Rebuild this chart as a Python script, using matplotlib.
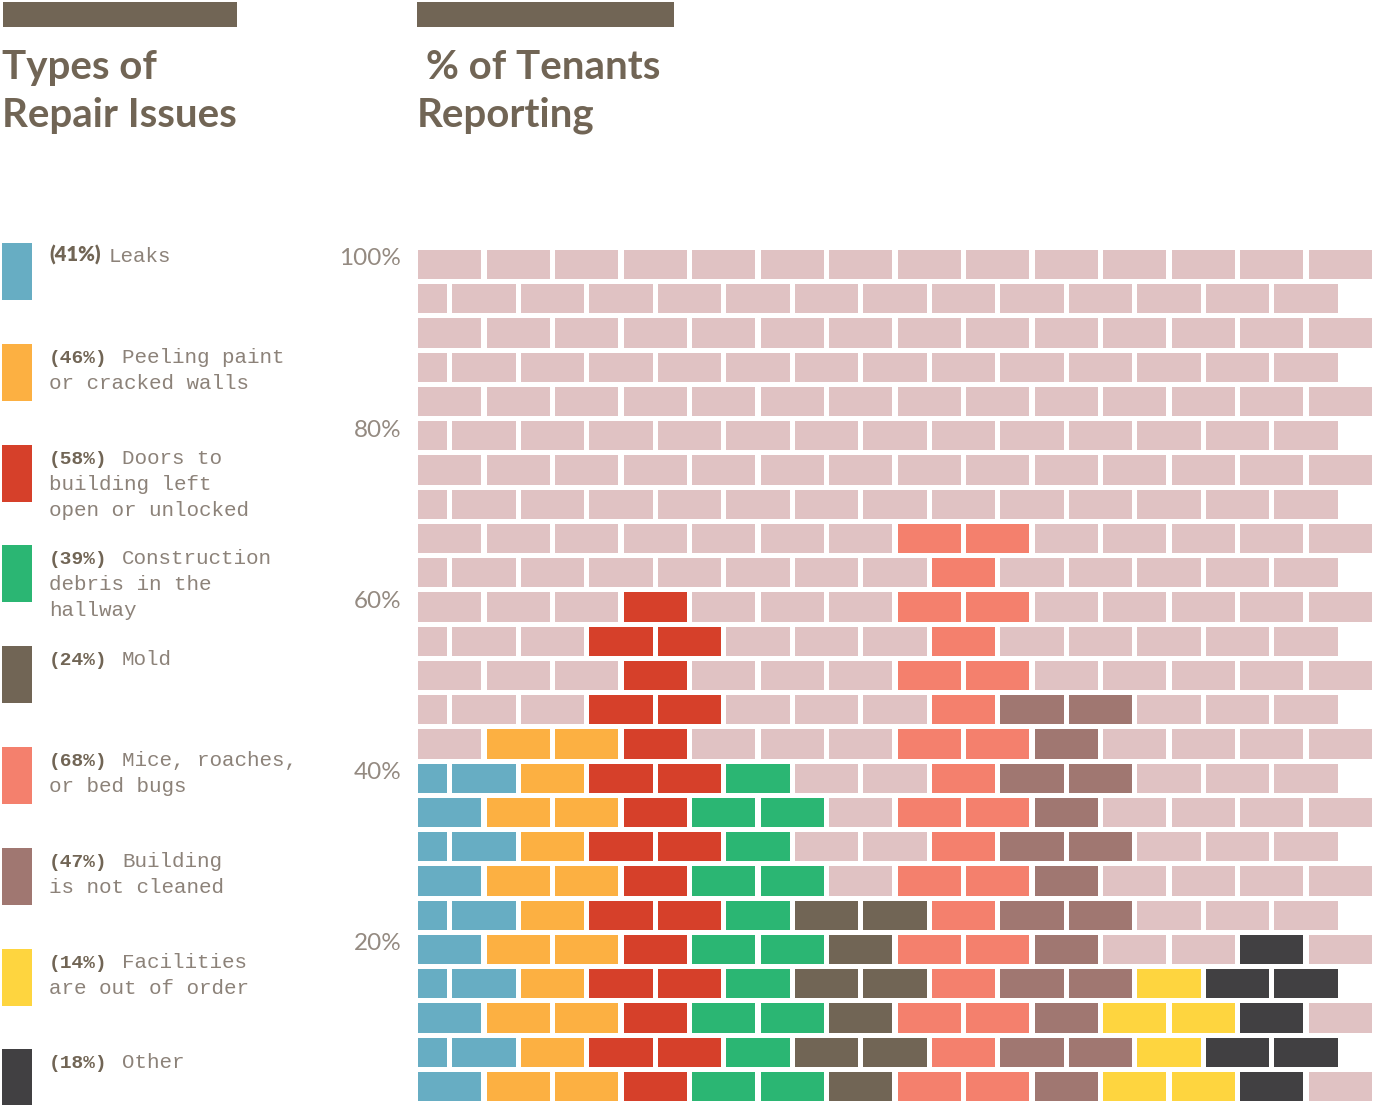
import matplotlib
matplotlib.use("Agg")
import matplotlib.pyplot as plt
from matplotlib.patches import Rectangle

# data
pct = [41, 46, 58, 39, 24, 68, 47, 14, 18]
# brick rows filled per category (each row = 4%)
rows = [10, 11, 15, 10, 6, 17, 12, 4, 5]
labels = [
    ["Leaks"],
    ["Peeling paint", "or cracked walls"],
    ["Doors to", "building left", "open or unlocked"],
    ["Construction", "debris in the", "hallway"],
    ["Mold"],
    ["Mice, roaches,", "or bed bugs"],
    ["Building", "is not cleaned"],
    ["Facilities", "are out of order"],
    ["Other"],
]
colors = ["#67adc3", "#fcb042", "#d6402a", "#2bb673", "#716555",
          "#f4806d", "#a07771", "#fed53f", "#414042"]
bg_col = "#e0c2c3"
ytick_vals = [20, 40, 60, 80, 100]

title_col = "#716555"
text_col = "#8c8279"

n_rows = 25
n_full = 14
bw = 0.924   # brick width (pitch 1)
bh = 0.85    # brick height (pitch 1)

fig = plt.figure(figsize=(13.75, 11.05), dpi=100)
W, H = 1375, 1105

# brick wall axes
ax = fig.add_axes([418 / W, 4 / H, 954 / W, 851 / H])
ax.set_xlim(0, n_full - 1 + bw)
ax.set_ylim(0, n_rows - 1 + bh)


def brick_cat(last_unit):
    c = last_unit // 3
    return c if c < len(pct) else None


for r in range(n_rows):
    bricks = []
    if r % 2 == 0:
        for i in range(n_full):
            bricks.append((i, bw, 2 * i + 1))
    else:
        bricks.append((0, 0.5 - (1 - bw), 0))
        for j in range(n_full - 1):
            bricks.append((j + 0.5, bw, 2 * j + 2))
    for x0, w, lu in bricks:
        c = brick_cat(lu)
        col = colors[c] if (c is not None and r < rows[c]) else bg_col
        ax.add_patch(Rectangle((x0, r), w, bh, facecolor=col, edgecolor="none"))

ax.set_xticks([])
ax.set_yticks([v / 4 - 0.35 for v in ytick_vals])
ax.set_yticklabels([f"{v}%" for v in ytick_vals], fontfamily="Lato",
                   fontweight="normal", fontsize=17.5, color="#948a81")
ax.tick_params(axis="y", length=0, pad=12)
for s in ax.spines.values():
    s.set_visible(False)

# overlay for titles and legend (pixel coords)
ov = fig.add_axes([0, 0, 1, 1], zorder=-1)
ov.set_xlim(0, W)
ov.set_ylim(H, 0)
ov.axis("off")

ov.add_patch(Rectangle((3, 2), 234, 25, facecolor=title_col, edgecolor="none"))
ov.add_patch(Rectangle((417, 2), 257, 25, facecolor=title_col, edgecolor="none"))

tkw = dict(fontfamily="Lato", fontweight="bold", fontsize=29,
           color=title_col, va="baseline")
ov.text(2, 79, "Types of", **tkw)
ov.text(2, 127, "Repair Issues", **tkw)
ov.text(426, 79, "% of Tenants", **tkw)
ov.text(417, 127, "Reporting", **tkw)

top0, pitch = 243, 100.8
for k in range(len(pct)):
    top = top0 + k * pitch
    ov.add_patch(Rectangle((2, top), 30, 57, facecolor=colors[k], edgecolor="none"))
    base = top + 19
    lines = labels[k]
    if k == 0:
        ov.text(49, base, f"({pct[k]}%)", fontfamily="Lato", fontweight="heavy",
                fontsize=14.5, color=title_col, va="baseline")
        x_first = 109
    else:
        ov.text(49, base, f"({pct[k]}%)", fontfamily="Liberation Mono",
                fontweight="bold", fontsize=14, color=title_col, va="baseline")
        x_first = 122
    ov.text(x_first, base, lines[0], fontfamily="Liberation Mono",
            fontsize=15, color=text_col, va="baseline")
    for m, ln in enumerate(lines[1:], start=1):
        ov.text(49, base + 26 * m, ln, fontfamily="Liberation Mono",
                fontsize=15, color=text_col, va="baseline")

fig.savefig("out.png", dpi=100, facecolor="white")
